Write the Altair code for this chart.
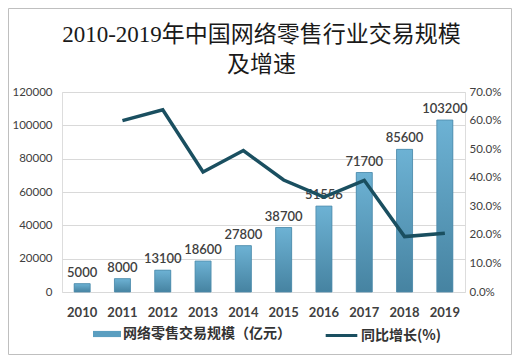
import altair as alt
import pandas as pd

years = ["2010", "2011", "2012", "2013", "2014", "2015", "2016", "2017", "2018", "2019"]
scale_vals = [5000, 8000, 13100, 18600, 27800, 38700, 51556, 71700, 85600, 103200]
growth_vals = [None, 60.0, 63.75, 42.0, 49.5, 39.2, 33.2, 39.1, 19.4, 20.6]

title_lines = ["2010-2019年中国网络零售行业交易规模", "及增速"]
bar_name = "网络零售交易规模（亿元）"
line_name = "同比增长(%)"

df = pd.DataFrame({"year": years, "scale": scale_vals, "growth": growth_vals,
                   "bar_series": bar_name, "line_series": line_name})

W, H = 403, 200
FONT = "Lato, Noto Sans CJK SC"
CJK = "Noto Sans CJK SC"

xenc = alt.X("year:N", title=None, sort=years,
             scale=alt.Scale(paddingInner=0.6, paddingOuter=0.3),
             axis=alt.Axis(labelAngle=0, labelFontSize=13, labelFontWeight="bold",
                           labelColor="#404040", labelFont=FONT, ticks=False,
                           domain=False, labelPadding=14))
yleft = alt.Y("scale:Q", title=None,
              scale=alt.Scale(domain=[0, 120000]),
              axis=alt.Axis(values=[0, 20000, 40000, 60000, 80000, 100000, 120000],
                            format="d",
                            labelFontSize=11.5, labelColor="#404040", labelFont=FONT,
                            ticks=False, domain=False, grid=True, gridColor="#d9d9d9",
                            labelPadding=10))

base = alt.Chart(df)

bars_legend = base.mark_bar(size=16).encode(
    x=xenc, y=yleft,
    color=alt.Color("bar_series:N",
                    scale=alt.Scale(domain=[bar_name], range=["#5a9ec0"]),
                    legend=alt.Legend(title=None, orient="none", legendX=31, legendY=228,
                                      symbolType="M-1,-0.22H1V0.22H-1Z", symbolSize=784,
                                      symbolStrokeWidth=0, labelFont=CJK, labelFontSize=14,
                                      labelFontWeight="bold", labelColor="#333333",
                                      labelOffset=2, padding=0, symbolOpacity=1,
                                      labelLimit=400)),
)

grad = alt.Gradient(gradient="linear",
                    stops=[alt.GradientStop(color="#6db2d4", offset=0),
                           alt.GradientStop(color="#4683a1", offset=1)],
                    x1=0, x2=0, y1=0, y2=1)
bars = base.mark_bar(size=16, fill=grad, stroke="#4e8cab", strokeWidth=0.8).encode(
    x=xenc, y=yleft)

labels = base.mark_text(dy=-11, fontSize=13, fontWeight=600, color="#404040",
                        font=FONT).encode(
    x=xenc, y=yleft, text=alt.Text("scale:Q", format="d"))

tdf = pd.DataFrame({"t": title_lines, "i": [0, 1]})
title = alt.Chart(tdf).mark_text(font="Liberation Serif, Noto Sans CJK SC", fontSize=23,
                                 color="#1a1a1a", align="center", baseline="middle").encode(
    text="t:N",
    x=alt.value(W / 2 - 2),
    y=alt.Y("i:Q", scale=alt.Scale(domain=[0, 1], range=[-57, -27]), axis=None),
)

border = alt.Chart(pd.DataFrame({"a": [0]})).mark_rect(
    fill="transparent", stroke="#bfbfbf", strokeWidth=1).encode(
    x=alt.value(-53.5), x2=alt.value(449.5), y=alt.value(-83.5), y2=alt.value(262.5))

line = base.transform_filter("datum.growth != null").mark_line(
    strokeWidth=3.5, strokeJoin="miter").encode(
    x=xenc,
    y=alt.Y("growth:Q", title=None, scale=alt.Scale(domain=[0, 70]),
            axis=alt.Axis(orient="right", values=[0, 10, 20, 30, 40, 50, 60, 70],
                          labelExpr="format(datum.value, '.1f') + '%'",
                          labelFontSize=11.5, labelColor="#404040", labelFont=FONT,
                          ticks=False, domain=False, grid=False, labelPadding=4)),
    stroke=alt.Stroke("line_series:N",
                      scale=alt.Scale(domain=[line_name], range=["#1a4f60"]),
                      legend=alt.Legend(title=None, orient="none", legendX=262, legendY=226,
                                        symbolType="stroke", symbolSize=1000,
                                        symbolStrokeWidth=3, labelFont=CJK, labelFontSize=14,
                                        labelFontWeight="bold", labelColor="#333333",
                                        labelOffset=2, padding=0, labelLimit=400)),
)

left = alt.layer(bars_legend, bars, labels)
chart = alt.layer(border, left, line, title).resolve_scale(
    y="independent", color="independent", stroke="independent"
).properties(
    width=W, height=H,
    autosize=alt.AutoSizeParams(type="none"),
    padding={"left": 54, "top": 84, "right": 47, "bottom": 63},
).configure_view(stroke=None).configure(background="white")

chart.save("out.html", embed_options={"renderer": "svg", "actions": False})
